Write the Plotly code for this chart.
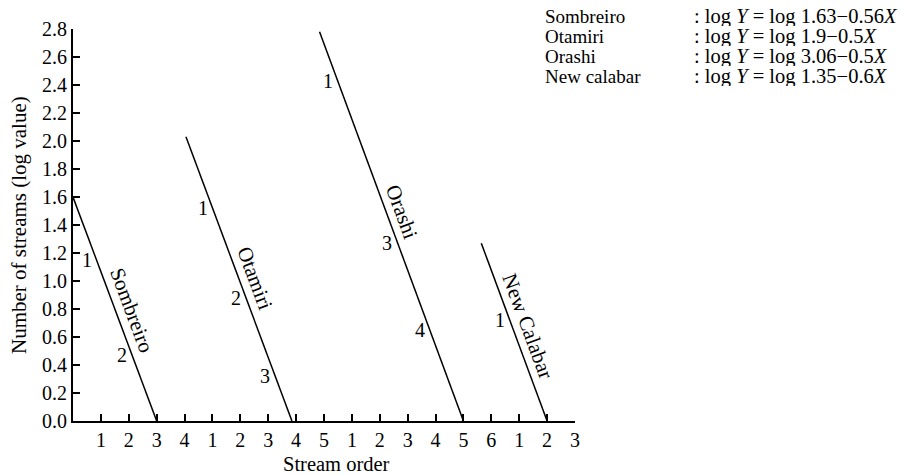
import math
import plotly.graph_objects as go

# ---- data ----
series = ["Sombreiro", "Otamiri", "Orashi", "New Calabar"]
x_start = [0.0, 4.05, 8.84, 14.64]
y_start = [1.60, 2.03, 2.78, 1.27]
x_end = [3.0, 7.85, 14.0, 17.0]
y_end = [0.0, 0.0, 0.0, 0.0]

order_labels = [["1", "2"], ["1", "2", "3"], ["1", "3", "4"], ["1"]]
order_label_y = [[1.15, 0.47], [1.52, 0.88, 0.32], [2.43, 1.275, 0.65], [0.72]]
name_label_y = [0.79, 1.02, 1.495, 0.68]

x_tick_vals = list(range(1, 19))
x_tick_text = ["1", "2", "3", "4", "1", "2", "3", "4", "5",
               "1", "2", "3", "4", "5", "6", "1", "2", "3"]
y_tick_vals = [round(0.2 * i, 1) for i in range(15)]

eq_names = ["Sombreiro", "Otamiri", "Orashi", "New calabar"]
eq_a = ["1.63", "1.9", "3.06", "1.35"]
eq_b = ["0.56", "0.5", "0.5", "0.6"]

# ---- layout constants ----
W, H = 905, 475
OFF = 0  # body margin removed via post_script
ML, MR, MT, MB = 73, 330, 29, 54
XR = [0, 18]
YR = [0, 2.8]
FONT = "Liberation Serif, Times New Roman, serif"
PW = W - ML - MR
PH = H - MT - MB
px_per_x = PW / (XR[1] - XR[0])
px_per_y = PH / (YR[1] - YR[0])


def paper_x(page_x):
    return (page_x - OFF - ML) / PW


def paper_y(page_y):
    return (H - MB - (page_y - OFF)) / PH


fig = go.Figure()
annotations = []
for i, name in enumerate(series):
    fig.add_trace(go.Scatter(
        x=[x_start[i], x_end[i]], y=[y_start[i], y_end[i]],
        mode="lines", line=dict(color="black", width=1.5),
        showlegend=False, hoverinfo="skip"))
    slope = (y_start[i] - y_end[i]) / (x_end[i] - x_start[i])

    def x_on_line(y):
        return x_start[i] + (y_start[i] - y) / slope

    for lab, yv in zip(order_labels[i], order_label_y[i]):
        annotations.append(dict(
            x=x_on_line(yv), y=yv, xref="x", yref="y", text=lab,
            showarrow=False, xanchor="center", yanchor="middle",
            xshift=-10, font=dict(family=FONT, size=20, color="black")))
    ang = math.degrees(math.atan(slope * px_per_y / px_per_x))
    yn = name_label_y[i]
    annotations.append(dict(
        x=x_on_line(yn), y=yn, xref="x", yref="y", text=name,
        showarrow=False, xanchor="center", yanchor="middle",
        xshift=16, textangle=ang,
        font=dict(family=FONT, size=21, color="black")))

# equations block (top right)
row_page_y = [16, 36, 56, 76]
for k in range(len(eq_names)):
    yp = paper_y(row_page_y[k])
    annotations.append(dict(
        x=paper_x(543), y=yp, xref="paper", yref="paper",
        text=eq_names[k], showarrow=False, xanchor="left", yanchor="middle",
        height=20, font=dict(family=FONT, size=19, color="black")))
    eq_text = (": log <i>Y</i> = log "
               + eq_a[k] + "\u2212" + eq_b[k] + "<i>X</i>")
    annotations.append(dict(
        x=paper_x(692), y=yp, xref="paper", yref="paper",
        text=eq_text,
        showarrow=False, xanchor="left", yanchor="middle",
        height=20, font=dict(family=FONT, size=20.5, color="black")))

# axis titles
annotations.append(dict(
    x=paper_x(336.5), y=paper_y(463.5),
    xref="paper", yref="paper", text="Stream order", showarrow=False,
    xanchor="center", yanchor="middle",
    font=dict(family=FONT, size=20.5, color="black")))
annotations.append(dict(
    x=paper_x(19), y=paper_y(225),
    xref="paper", yref="paper", text="Number of streams (log value)",
    showarrow=False, xanchor="center", yanchor="middle", textangle=-90,
    font=dict(family=FONT, size=21, color="black")))

fig.update_layout(
    width=W, height=H,
    margin=dict(l=ML, r=MR, t=MT, b=MB, pad=0),
    paper_bgcolor="white", plot_bgcolor="white",
    font=dict(family=FONT, size=20, color="black"),
    annotations=annotations,
    showlegend=False, hovermode=False,
)
fig.update_xaxes(
    range=XR, tickmode="array", tickvals=x_tick_vals, ticktext=x_tick_text,
    showline=True, linecolor="black", linewidth=2, mirror=False,
    ticks="inside", ticklen=7, tickwidth=1.5, tickcolor="black",
    showgrid=False, zeroline=False,
    tickfont=dict(family=FONT, size=20, color="black"))
fig.update_yaxes(
    range=YR, tickmode="array", tickvals=y_tick_vals,
    ticktext=["%.1f" % v for v in y_tick_vals],
    showline=True, linecolor="black", linewidth=2, mirror=False,
    ticks="inside", ticklen=7, tickwidth=1.5, tickcolor="black",
    showgrid=False, zeroline=False,
    tickfont=dict(family=FONT, size=20, color="black"))

fig.write_html(
    "out.html",
    config={"displayModeBar": False},
    post_script="document.body.style.margin='0';"
                "document.body.style.overflow='hidden';")
